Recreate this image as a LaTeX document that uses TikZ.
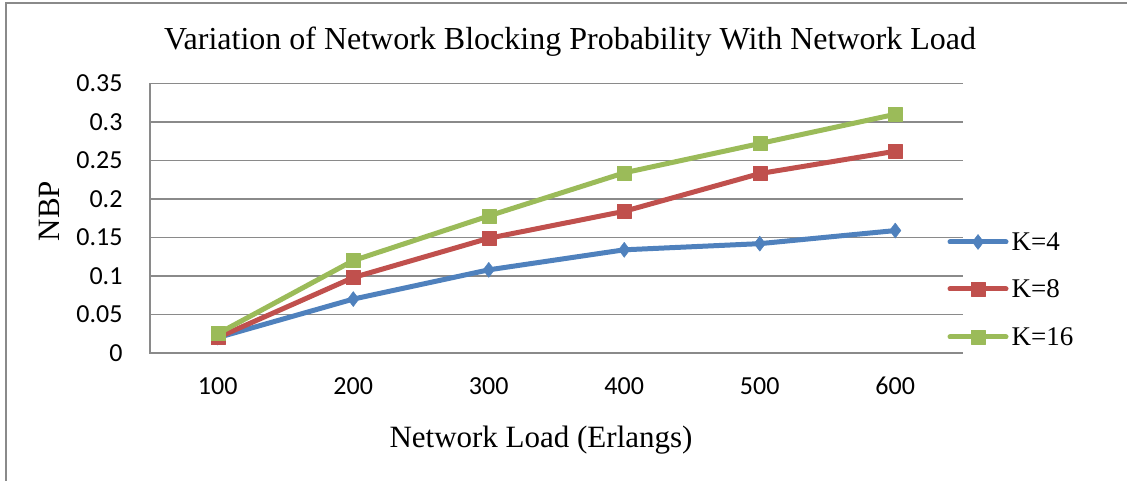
\documentclass[tikz,border=0pt]{standalone}
\usepackage{fontspec}
\setmainfont{Liberation Serif}
\newfontfamily\tickfont{Carlito}
\usetikzlibrary{plotmarks}
\definecolor{k4color}{HTML}{4F81BD}
\definecolor{k8color}{HTML}{C0504D}
\definecolor{k16color}{HTML}{9BBB59}
\definecolor{gridcolor}{HTML}{8A8A8A}

\begin{document}
\begin{tikzpicture}[x=1pt, y=1pt,
    % Horizontal gridlines and the value axis: plain grey rules.
    gridrule/.style={draw=gridcolor, line width=1.6pt},
    % Axis numbers are set in a Calibri-like sans.
    ticklabel/.style={font=\fontsize{26}{30}\selectfont\tickfont},
    yticklabel/.style={ticklabel, anchor=east, xshift=-24pt},
    xticklabel/.style={ticklabel, yshift=-33pt},
    % Titles and legend entries use the serif.
    charttitle/.style={font=\fontsize{32}{38}\selectfont},
    axistitle/.style={font=\fontsize{31}{36}\selectfont},
    legendlabel/.style={font=\fontsize{27}{32}\selectfont, anchor=west},
    % Data series: thick round lines with filled markers.
    series/.style={line width=5pt, line cap=round, line join=round},
    k4line/.style={series, draw=k4color, mark=diamond*, mark size=7.5pt,
                   mark options={solid, fill=k4color, draw=k4color, line width=0.5pt}},
    k8line/.style={series, draw=k8color, mark=square*, mark size=7pt,
                   mark options={solid, fill=k8color, draw=k8color, line width=0.5pt}},
    k16line/.style={series, draw=k16color, mark=square*, mark size=7pt,
                    mark options={solid, fill=k16color, draw=k16color, line width=0.5pt}}
]
    \useasboundingbox (0,0) rectangle (1127,481);

    % === Outer frame (only top and left edges are visible) ===
    \draw[draw=gridcolor, line width=2pt] (5.5,0) -- (5.5,477.5) -- (1127,477.5);

    % === Titles ===
    \node[charttitle] (title) at (570,439) {Variation of Network Blocking Probability With Network Load};
    \node[axistitle, rotate=90] (ytitle) at (49,270) {NBP};
    \node[axistitle] (xtitle) at (541,41) {Network Load (Erlangs)};

    % === Plot area: one unit in x is one load category, y is NBP ===
    \begin{scope}[shift={(150,128)}, x=135.5pt, y=770pt]

    % Gridlines, 0.05 apart
    \draw[gridrule] (0,0.05) -- (6,0.05);
    \draw[gridrule] (0,0.10) -- (6,0.10);
    \draw[gridrule] (0,0.15) -- (6,0.15);
    \draw[gridrule] (0,0.20) -- (6,0.20);
    \draw[gridrule] (0,0.25) -- (6,0.25);
    \draw[gridrule] (0,0.30) -- (6,0.30);
    \draw[gridrule] (0,0.35) -- (6,0.35);
    % Axes
    \draw[gridrule] (0,0.35) -- (0,0) -- (6,0);

    % Value axis numbers
    \node[yticklabel] (y0)  at (0,0)    {0};
    \node[yticklabel] (y1)  at (0,0.05) {0.05};
    \node[yticklabel] (y2)  at (0,0.10) {0.1};
    \node[yticklabel] (y3)  at (0,0.15) {0.15};
    \node[yticklabel] (y4)  at (0,0.20) {0.2};
    \node[yticklabel] (y5)  at (0,0.25) {0.25};
    \node[yticklabel] (y6)  at (0,0.30) {0.3};
    \node[yticklabel] (y7)  at (0,0.35) {0.35};

    % Category axis numbers (network load)
    \node[xticklabel] (x1) at (0.5,0) {100};
    \node[xticklabel] (x2) at (1.5,0) {200};
    \node[xticklabel] (x3) at (2.5,0) {300};
    \node[xticklabel] (x4) at (3.5,0) {400};
    \node[xticklabel] (x5) at (4.5,0) {500};
    \node[xticklabel] (x6) at (5.5,0) {600};

    % === Series ===
    \draw[k4line] plot coordinates {(0.5,0.020) (1.5,0.070) (2.5,0.108)
        (3.5,0.134) (4.5,0.142) (5.5,0.159)};
    \draw[k8line] plot coordinates {(0.5,0.020) (1.5,0.098) (2.5,0.149)
        (3.5,0.184) (4.5,0.233) (5.5,0.262)};
    \draw[k16line] plot coordinates {(0.5,0.025) (1.5,0.120) (2.5,0.178)
        (3.5,0.234) (4.5,0.272) (5.5,0.310)};

    \end{scope}

    % === Legend ===
    \draw[k4line, mark indices={2}] plot coordinates {(950,239) (978,239) (1006,239)};
    \node[legendlabel] (k4leg) at (1008,239) {K=4};
    \draw[k8line, mark indices={2}] plot coordinates {(950,192) (978,192) (1006,192)};
    \node[legendlabel] (k8leg) at (1008,192) {K=8};
    \draw[k16line, mark indices={2}] plot coordinates {(950,144) (978,144) (1006,144)};
    \node[legendlabel] (k16leg) at (1008,144) {K=16};

\end{tikzpicture}
\end{document}
